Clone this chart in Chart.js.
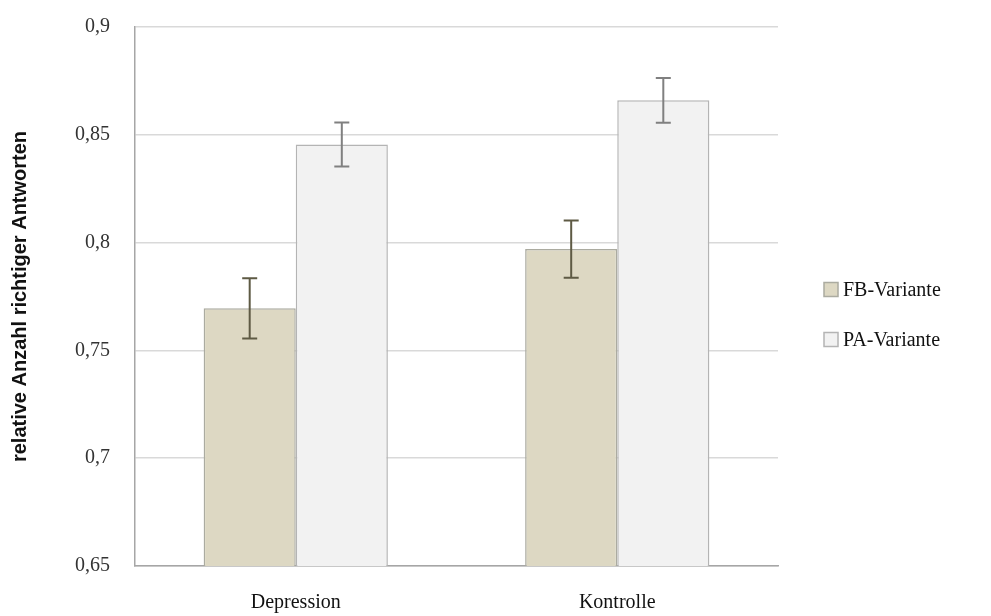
<!DOCTYPE html>
<html>
<head>
<meta charset="utf-8">
<script src="https://cdn.jsdelivr.net/npm/chart.js@4"></script>
<style>
  html, body { margin: 0; padding: 0; background: #fff; }
  #wrap { width: 991px; height: 616px; }
</style>
</head>
<body>
<div id="wrap"><canvas id="barChart"></canvas></div>
<script>
const categories = ['Depression', 'Kontrolle'];
const fbValues = [0.7695, 0.797];
const paValues = [0.8455, 0.866];
const fbErrors = [0.014, 0.0133];
const paErrors = [0.0102, 0.0104];
const yTicks = [0.65, 0.7, 0.75, 0.8, 0.85, 0.9];

// whiskers drawn from each dataset's errors array
const errorBars = {
  id: 'errorBars',
  afterDatasetsDraw(chart) {
    const ctx = chart.ctx;
    const y = chart.scales.y;
    chart.data.datasets.forEach((ds, i) => {
      chart.getDatasetMeta(i).data.forEach((bar, j) => {
        const top = y.getPixelForValue(ds.data[j] + ds.errors[j]);
        const bot = y.getPixelForValue(ds.data[j] - ds.errors[j]);
        ctx.save();
        ctx.strokeStyle = ds.errorColor;
        ctx.lineWidth = 2;
        ctx.beginPath();
        ctx.moveTo(bar.x, top); ctx.lineTo(bar.x, bot);
        ctx.moveTo(bar.x - 7.5, top); ctx.lineTo(bar.x + 7.5, top);
        ctx.moveTo(bar.x - 7.5, bot); ctx.lineTo(bar.x + 7.5, bot);
        ctx.stroke();
        ctx.restore();
      });
    });
  }
};

// simple right-hand legend, placed in the space kept free by layout padding
const sideLegend = {
  id: 'sideLegend',
  afterDraw(chart) {
    const ctx = chart.ctx;
    const area = chart.chartArea;
    const x = area.right + 46;
    const mid = (area.top + area.bottom) / 2 + 18;
    const n = chart.data.datasets.length;
    ctx.save();
    ctx.font = '20px "Liberation Serif"';
    ctx.textBaseline = 'middle';
    chart.data.datasets.forEach((ds, i) => {
      const cy = mid + (i - (n - 1) / 2) * 50;
      ctx.fillStyle = ds.backgroundColor;
      ctx.strokeStyle = ds.borderColor;
      ctx.lineWidth = 1.5;
      ctx.fillRect(x, cy - 7, 14, 14);
      ctx.strokeRect(x, cy - 7, 14, 14);
      ctx.fillStyle = '#111';
      ctx.fillText(ds.label, x + 19, cy + 1);
    });
    ctx.restore();
  }
};

new Chart(document.getElementById('barChart').getContext('2d'), {
  type: 'bar',
  data: {
    labels: categories,
    datasets: [
      { label: 'FB-Variante', data: fbValues, errors: fbErrors, errorColor: '#5e5a44',
        backgroundColor: '#ddd8c3', borderColor: '#ababa0', borderWidth: 1.5 },
      { label: 'PA-Variante', data: paValues, errors: paErrors, errorColor: '#808080',
        backgroundColor: '#f2f2f2', borderColor: '#b4b4b4', borderWidth: 1.5 }
    ]
  },
  options: {
    responsive: true,
    maintainAspectRatio: false,
    animation: false,
    layout: { padding: { top: 27, right: 213, bottom: 0, left: 8 } },
    datasets: { bar: { categoryPercentage: 0.573, barPercentage: 1 } },
    scales: {
      x: {
        afterFit: (axis) => { axis.height = 50; },
        grid: { display: false },
        border: { color: '#a6a6a6', width: 1.5 },
        ticks: { color: '#111', padding: 17, font: { family: 'Liberation Serif', size: 20 } }
      },
      y: {
        min: 0.65, max: 0.9,
        afterBuildTicks: (axis) => { axis.ticks = yTicks.map(v => ({ value: v })); },
        afterFit: (axis) => { axis.width = 127; axis.paddingTop = 0; axis.paddingBottom = 0; },
        grid: { color: '#d9d9d9', lineWidth: 1.5, drawTicks: false },
        border: { color: '#a6a6a6', width: 1.5 },
        ticks: {
          color: '#333', padding: 25, font: { family: 'Liberation Serif', size: 20 },
          callback: (v) => String(Math.round(v * 100) / 100).replace('.', ',')
        },
        title: {
          display: true, text: 'relative Anzahl richtiger Antworten', color: '#111',
          font: { family: 'Liberation Sans', size: 20, weight: 'bold' }, padding: 0
        }
      }
    },
    plugins: {
      legend: { display: false },
      tooltip: { enabled: false }
    }
  },
  plugins: [errorBars, sideLegend]
});
</script>
</body>
</html>
